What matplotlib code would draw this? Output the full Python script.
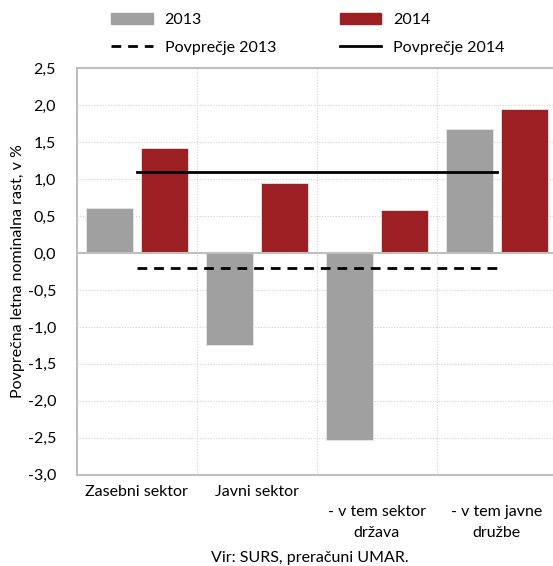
import matplotlib.pyplot as plt
from matplotlib.patches import Patch
from matplotlib.lines import Line2D
from matplotlib.ticker import FuncFormatter
import numpy as np

plt.rcParams['font.family'] = ['Lato', 'DejaVu Sans']

# data
categories = ["Zasebni sektor", "Javni sektor", "\n- v tem sektor\ndržava", "\n- v tem javne\ndružbe"]
vals_2013 = [0.61, -1.24, -2.53, 1.68]
vals_2014 = [1.42, 0.95, 0.58, 1.94]
avg_2013 = -0.20
avg_2014 = 1.10

c13 = '#a0a0a0'
c14 = '#9c1f23'
grid_c = '#bfbfbf'
fs = 11.5

fig = plt.figure(figsize=(5.53, 5.66), dpi=100)
ax = fig.add_axes([0.139, 0.161, 0.868, 0.719])

x = np.arange(len(categories))
w = 0.39
off = 0.229
ax.bar(x - off, vals_2013, w, color=c13, edgecolor='#e6e6e6', linewidth=0.6, zorder=3)
ax.bar(x + off, vals_2014, w, color=c14, edgecolor='#e6e6e6', linewidth=0.6, zorder=3)

# averages drawn across category centres
ax.plot([x[0], x[-1]], [avg_2013, avg_2013], color='black', lw=2, ls=(0, (3.5, 2.5)), zorder=4)
ax.plot([x[0], x[-1]], [avg_2014, avg_2014], color='black', lw=2, zorder=4)

ax.set_xlim(-0.5, len(categories) - 0.5)
ax.set_ylim(-3.0, 2.5)
ax.set_yticks(np.arange(-3.0, 2.51, 0.5))
ax.yaxis.set_major_formatter(FuncFormatter(lambda v, p: f"{v:.1f}".replace('.', ',')))
ax.set_xticks(x)
ax.set_xticklabels(categories, fontsize=fs, linespacing=1.6, va='top')
ax.tick_params(axis='both', length=0, labelsize=fs)
ax.tick_params(axis='y', pad=15)
ax.tick_params(axis='x', pad=7)

# grid: dotted horizontals, dotted vertical separators
ax.yaxis.grid(True, color='#cfcfcf', ls=(0, (1, 1.5)), lw=0.8, zorder=0)
for b in [0.5, 1.5, 2.5]:
    ax.axvline(b, color='#cfcfcf', ls=(0, (1, 1.5)), lw=0.8, zorder=0)
ax.axhline(0, color=grid_c, lw=1.5, zorder=3.5)

for s in ['left', 'top', 'bottom']:
    ax.spines[s].set_color(grid_c)
    ax.spines[s].set_linewidth(1.5)
ax.spines['right'].set_visible(False)

ax.set_ylabel("Povprečna letna nominalna rast, v %", fontsize=fs, labelpad=2)

handles = [Patch(color=c13, label='2013'),
           Line2D([], [], color='black', lw=2, ls=(0, (3.5, 2.5)), label='Povprečje 2013'),
           Patch(color=c14, label='2014'),
           Line2D([], [], color='black', lw=2, label='Povprečje 2014')]
fig.legend(handles=handles, ncol=2, loc='upper left', bbox_to_anchor=(0.175, 1.003),
           frameon=False, fontsize=fs, handlelength=2.6, handletextpad=0.75,
           columnspacing=4.0, labelspacing=0.85)

fig.text(0.56, 0.002, "Vir: SURS, preračuni UMAR.", ha='center', va='bottom', fontsize=fs)

fig.savefig('out.png', dpi=100)
